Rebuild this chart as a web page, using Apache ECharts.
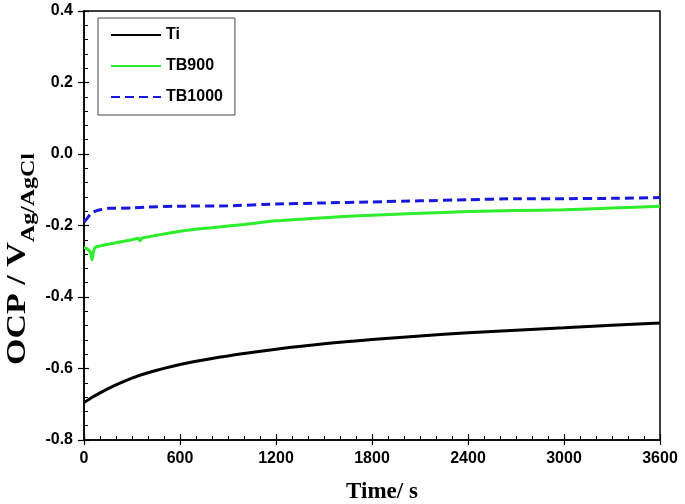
<!DOCTYPE html>
<html>
<head>
<meta charset="utf-8">
<script src="https://cdn.jsdelivr.net/npm/echarts@6/dist/echarts.min.js"></script>
<style>html,body{margin:0;padding:0;background:#fff;}#c{width:685px;height:504px;}</style>
</head>
<body>
<div id="c"></div>
<script>
// ---- data ----
var tiTime   = [0, 50, 100, 200, 300, 400, 600, 800, 1000, 1200, 1500, 1800, 2100, 2400, 2700, 3000, 3300, 3600];
var tiOCP    = [-0.695, -0.681, -0.668, -0.646, -0.627, -0.612, -0.589, -0.572, -0.558, -0.546, -0.531, -0.519, -0.509, -0.500, -0.493, -0.486, -0.479, -0.473];
var tb900Time = [0, 20, 40, 50, 60, 70, 100, 200, 300, 340, 350, 360, 400, 600, 800, 1000, 1200, 1500, 1800, 2100, 2400, 2700, 3000, 3300, 3600];
var tb900OCP  = [-0.262, -0.265, -0.275, -0.296, -0.272, -0.261, -0.257, -0.248, -0.240, -0.236, -0.243, -0.236, -0.232, -0.216, -0.206, -0.197, -0.187, -0.178, -0.171, -0.166, -0.161, -0.158, -0.156, -0.151, -0.146];
var tb1000Time = [0, 20, 40, 60, 100, 160, 300, 400, 600, 900, 1200, 1500, 1800, 2100, 2400, 2700, 3000, 3300, 3600];
var tb1000OCP  = [-0.190, -0.180, -0.168, -0.162, -0.156, -0.152, -0.151, -0.148, -0.146, -0.145, -0.140, -0.137, -0.134, -0.131, -0.128, -0.125, -0.125, -0.124, -0.122];
var seriesNames = ['Ti', 'TB900', 'TB1000'];
var xTicks = [0, 3600, 600];
var yTicks = [-0.8, 0.4, 0.2];

function pairs(xs, ys) { return xs.map(function (x, i) { return [x, ys[i]]; }); }

var chart = echarts.init(document.getElementById('c'), null, {renderer: 'canvas'});
var labelFont = {fontFamily: 'Liberation Sans, Arial, sans-serif', fontWeight: 'bold', fontSize: 16, color: '#000'};
var grid = {left: 84, right: 25, top: 11, bottom: 64, show: true, borderColor: '#000', borderWidth: 1.5, backgroundColor: 'transparent'};

var option = {
  animation: false,
  backgroundColor: '#fff',
  grid: grid,
  xAxis: [
    {type: 'value', min: xTicks[0], max: xTicks[1], interval: xTicks[2],
     axisLine: {onZero: false, lineStyle: {color: '#000', width: 1.5}},
     axisTick: {show: true, inside: false, length: 5, lineStyle: {color: '#000', width: 1.2}},
     axisLabel: Object.assign({margin: 11, formatter: function (v) { return String(v); }}, labelFont),
     splitLine: {show: false}},
    {type: 'value', min: xTicks[0], max: xTicks[1], interval: xTicks[2], position: 'bottom',
     axisLine: {show: false, onZero: false},
     axisTick: {show: true, inside: true, length: 6, lineStyle: {color: '#000', width: 1.2}},
     minorTick: {show: true, splitNumber: 6, length: 4, lineStyle: {color: '#000', width: 1}},
     axisLabel: {show: false}, splitLine: {show: false}}
  ],
  yAxis: [
    {type: 'value', min: yTicks[0], max: yTicks[1], interval: yTicks[2],
     axisLine: {onZero: false, lineStyle: {color: '#000', width: 1.5}},
     axisTick: {show: true, inside: false, length: 6, lineStyle: {color: '#000', width: 1.2}},
     axisLabel: Object.assign({margin: 11, formatter: function (v) { return v.toFixed(1); }}, labelFont),
     splitLine: {show: false}},
    {type: 'value', min: yTicks[0], max: yTicks[1], interval: yTicks[2], position: 'left',
     axisLine: {show: false, onZero: false},
     axisTick: {show: true, inside: true, length: 5, lineStyle: {color: '#000', width: 1.2}},
     minorTick: {show: true, splitNumber: 5, length: 4, lineStyle: {color: '#000', width: 1}},
     axisLabel: {show: false}, splitLine: {show: false}}
  ],
  legend: {
    orient: 'vertical', left: 98, top: 18,
    data: seriesNames,
    itemWidth: 50, itemHeight: 14, itemGap: 15,
    padding: [9, 12, 10, 12],
    borderColor: '#444', borderWidth: 1,
    itemStyle: {color: 'transparent', borderColor: 'transparent', borderWidth: 0, opacity: 0},
    textStyle: {fontFamily: 'Liberation Sans, Arial, sans-serif', fontWeight: 'bold', fontSize: 16, color: '#000'}
  },
  graphic: [
    {type: 'text', x: 382, y: 492,
     style: {text: 'Time/ s', font: 'bold 23px "Liberation Serif", "Times New Roman", serif', fill: '#000', align: 'center', verticalAlign: 'middle'}},
    {type: 'text', x: 22, y: 259, rotation: Math.PI / 2, scaleX: 1.26,
     style: {
       text: '{a|OCP / V}{b|Ag/AgCl}',
       align: 'center', verticalAlign: 'middle',
       rich: {
         a: {font: 'bold 27px "Liberation Serif", "Times New Roman", serif', fill: '#000', lineHeight: 34, verticalAlign: 'top'},
         b: {font: 'bold 19px "Liberation Serif", "Times New Roman", serif', fill: '#000', lineHeight: 34, verticalAlign: 'bottom', padding: [12, 0, 0, 0]}
       }
     }}
  ],
  series: [
    {name: seriesNames[0], type: 'line', data: pairs(tiTime, tiOCP), showSymbol: false, symbol: 'none', smooth: 0.3,
     lineStyle: {color: '#000', width: 3}, itemStyle: {color: '#000'}},
    {name: seriesNames[1], type: 'line', data: pairs(tb900Time, tb900OCP), showSymbol: false, symbol: 'none', smooth: 0.2,
     lineStyle: {color: '#2cee2c', width: 3}, itemStyle: {color: '#2cee2c'}},
    {name: seriesNames[2], type: 'line', data: pairs(tb1000Time, tb1000OCP), showSymbol: false, symbol: 'none', smooth: 0.2,
     lineStyle: {color: '#1818dc', width: 3, type: [9, 5]}, itemStyle: {color: '#1818dc'}}
  ]
};
chart.setOption(option);
</script>
</body>
</html>
